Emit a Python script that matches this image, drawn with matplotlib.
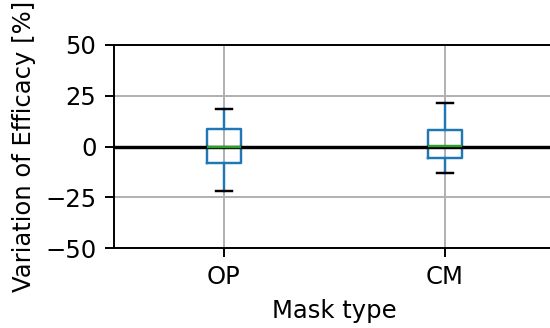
import matplotlib
matplotlib.use("Agg")
import matplotlib.pyplot as plt

mask_types = ["OP", "CM"]
q1 = [-8.2, -5.7]
median = [0.0, 0.2]
q3 = [8.9, 8.2]
whisker_low = [-21.6, -13.1]
whisker_high = [18.5, 21.3]

stats = []
for name, lo, a, m, b, hi in zip(mask_types, whisker_low, q1, median, q3, whisker_high):
    stats.append({"label": name, "whislo": lo, "q1": a, "med": m, "q3": b,
                  "whishi": hi, "fliers": []})

plt.rcParams["font.size"] = 10
fig = plt.figure(figsize=(550 / 175, 328 / 175), dpi=175)
ax = fig.add_axes([113.5 / 550, (328 - 248.3) / 328, 442 / 550, 203.3 / 328])

ax.bxp(stats, showfliers=False, widths=0.15,
       boxprops=dict(color="C0", linewidth=1.0),
       whiskerprops=dict(color="C0", linewidth=1.0),
       capprops=dict(color="k", linewidth=1.0),
       medianprops=dict(color="C2", linewidth=1.0))

ax.axhline(0, color="k", linewidth=1.4)
ax.grid(True)
ax.set_axisbelow(True)
ax.set_xlim(0.5, 2.5)
ax.set_ylim(-50, 50)
ax.set_yticks([-50, -25, 0, 25, 50])
ax.set_xlabel("Mask type")
ax.set_ylabel("Variation of Efficacy [%]")

fig.savefig("out.png", dpi=175)
